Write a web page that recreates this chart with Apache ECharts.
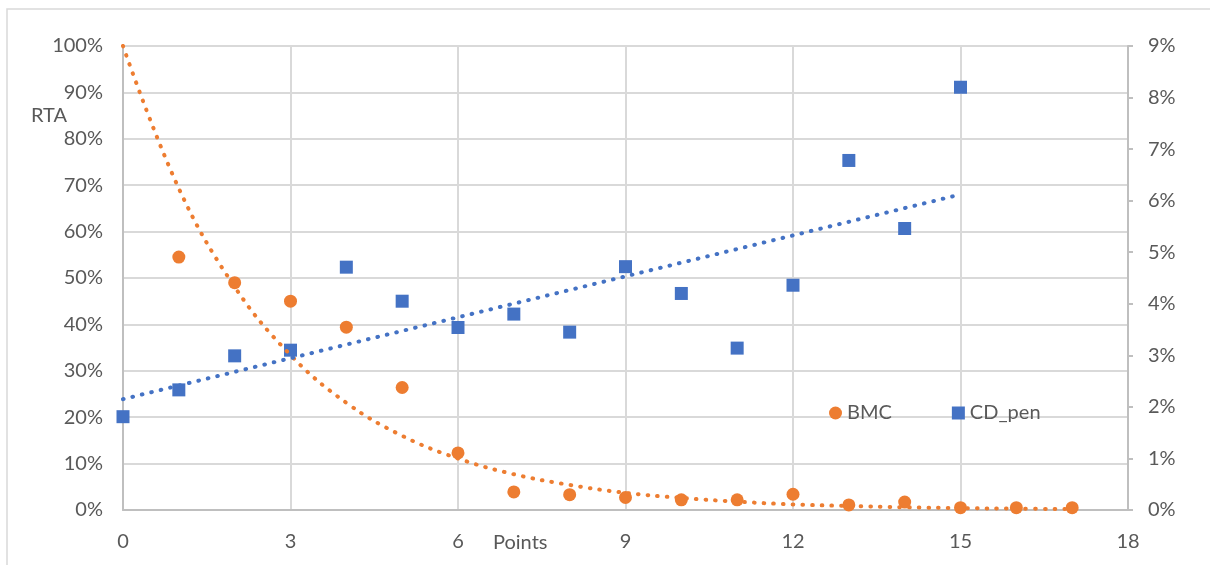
<!DOCTYPE html>
<html><head><meta charset="utf-8">
<script src="https://cdn.jsdelivr.net/npm/echarts@6/dist/echarts.min.js"></script>
<style>html,body{margin:0;padding:0;background:#fff}#c{width:1210px;height:565px}</style>
</head><body><div id="c"></div>
<script>
// Data
const bmcX = [1, 2, 3, 4, 5, 6, 7, 8, 9, 10, 11, 12, 13, 14, 15, 16, 17];
const bmcValues = [54.5, 49.0, 45.0, 39.4, 26.4, 12.3, 3.9, 3.3, 2.7, 2.2, 2.2, 3.4, 1.1, 1.7, 0.5, 0.5, 0.5]; // % (left axis)
const cdX = [0, 1, 2, 3, 4, 5, 6, 7, 8, 9, 10, 11, 12, 13, 14, 15];
const cdValues = [1.81, 2.33, 2.99, 3.10, 4.71, 4.05, 3.54, 3.80, 3.45, 4.72, 4.20, 3.14, 4.36, 6.78, 5.46, 8.20]; // % (right axis)
// Trendlines
const bmcTrendX = [0, 1, 2, 3, 4, 5, 6, 7, 8, 9, 10, 11, 12, 13, 14, 15, 16, 17];
const bmcTrendValues = [100, 69.3, 48.1, 33.4, 23.1, 16.0, 11.1, 7.7, 5.4, 3.7, 2.6, 1.8, 1.2, 0.86, 0.59, 0.41, 0.29, 0.2];
const cdTrendX = [0, 15];
const cdTrendValues = [2.15, 6.12];
// Axis tick settings
const xTicks = [0, 3, 6, 9, 12, 15, 18];
const leftTicks = [0, 10, 20, 30, 40, 50, 60, 70, 80, 90, 100];
const rightTicks = [0, 1, 2, 3, 4, 5, 6, 7, 8, 9];

const pair = (xs, ys) => xs.map((x, i) => [x, ys[i]]);
const FONT = 'Lato';
const TXT = '#595959';
const ORANGE = '#ED7D31';
const BLUE = '#4472C4';
const dotted = { type: [0.6, 9.1], cap: 'round', width: 4 };

const chart = echarts.init(document.getElementById('c'), null, { renderer: 'canvas' });
chart.setOption({
  animation: false,
  backgroundColor: '#ffffff',
  textStyle: { fontFamily: FONT },
  grid: { left: 123, right: 82, top: 46, bottom: 55, containLabel: false },
  graphic: [
    { type: 'rect', shape: { x: 7, y: 9, width: 1300, height: 700 }, style: { fill: 'none', stroke: '#d9d9d9', lineWidth: 1.5 }, z: -1 },
    { type: 'text', left: 31, top: 106, style: { text: 'RTA', font: '20px Lato', fill: TXT } },
    { type: 'text', left: 493, top: 533, style: { text: 'Points', font: '20px Lato', fill: TXT } }
  ],
  legend: {
    data: [
      { name: 'BMC', icon: 'circle' },
      { name: 'CD_pen', icon: 'rect' }
    ],
    left: 824, top: 398, itemWidth: 13, itemHeight: 13, itemGap: 60,
    textStyle: { color: TXT, fontSize: 20, fontFamily: FONT, padding: [0, 0, 0, 0] }
  },
  xAxis: {
    type: 'value', min: xTicks[0], max: xTicks[xTicks.length - 1], interval: xTicks[1] - xTicks[0],
    axisLine: { show: true, lineStyle: { color: '#bfbfbf', width: 2 } },
    axisTick: { show: false },
    axisLabel: { color: TXT, fontSize: 20, fontFamily: FONT, margin: 22 },
    splitLine: { show: true, lineStyle: { color: '#d9d9d9', width: 2 } }
  },
  yAxis: [
    {
      type: 'value', position: 'left', min: leftTicks[0], max: leftTicks[leftTicks.length - 1], interval: leftTicks[1] - leftTicks[0],
      axisLine: { show: true, lineStyle: { color: '#bfbfbf', width: 2 } },
      axisTick: { show: false },
      axisLabel: { color: TXT, fontSize: 20, fontFamily: FONT, margin: 20, formatter: '{value}%' },
      splitLine: { show: true, lineStyle: { color: '#d9d9d9', width: 2 } }
    },
    {
      type: 'value', position: 'right', min: rightTicks[0], max: rightTicks[rightTicks.length - 1], interval: rightTicks[1] - rightTicks[0],
      axisLine: { show: true, lineStyle: { color: '#bfbfbf', width: 2 } },
      axisTick: { show: true, length: 5, lineStyle: { color: '#bfbfbf', width: 2 } },
      axisLabel: { color: TXT, fontSize: 20, fontFamily: FONT, margin: 20, formatter: '{value}%' },
      splitLine: { show: false }
    }
  ],
  series: [
    {
      name: 'BMC', type: 'scatter', yAxisIndex: 0, data: pair(bmcX, bmcValues),
      symbol: 'circle', symbolSize: 13, itemStyle: { color: ORANGE, opacity: 1 }, z: 3
    },
    {
      name: 'CD_pen', type: 'scatter', yAxisIndex: 1, data: pair(cdX, cdValues),
      symbol: 'rect', symbolSize: 13, itemStyle: { color: BLUE, opacity: 1 }, z: 3
    },
    {
      name: 'BMC trend', type: 'line', yAxisIndex: 0, data: pair(bmcTrendX, bmcTrendValues),
      smooth: 0.4, showSymbol: false, symbol: 'none', lineStyle: Object.assign({ color: ORANGE }, dotted), z: 4, silent: true
    },
    {
      name: 'CD_pen trend', type: 'line', yAxisIndex: 1, data: pair(cdTrendX, cdTrendValues),
      showSymbol: false, symbol: 'none', lineStyle: Object.assign({ color: BLUE }, dotted), z: 4, silent: true
    }
  ]
});
</script></body></html>
